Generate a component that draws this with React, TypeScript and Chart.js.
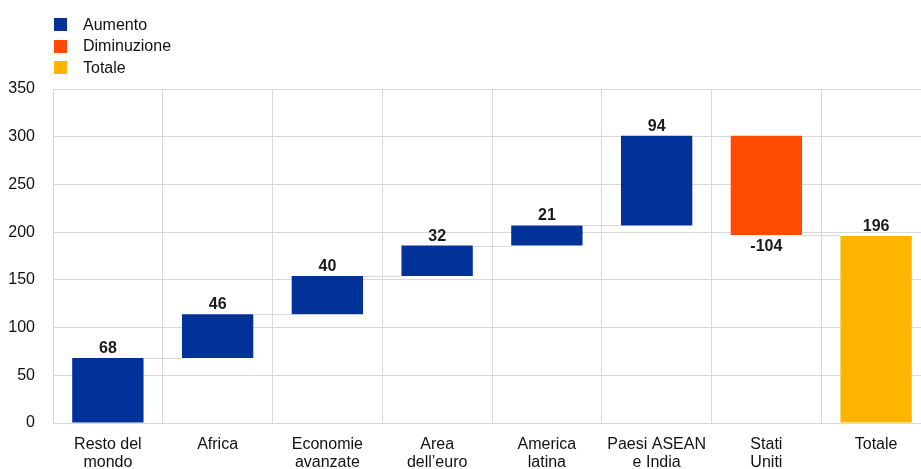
import React, { useEffect, useRef } from "react";
import { Chart, registerables } from "chart.js";

Chart.register(...registerables);

const categories: string[][] = [
  ["Resto del", "mondo"],
  ["Africa"],
  ["Economie", "avanzate"],
  ["Area", "dell’euro"],
  ["America", "latina"],
  ["Paesi ASEAN", "e India"],
  ["Stati", "Uniti"],
  ["Totale"],
];
const changes: number[] = [68, 46, 40, 32, 21, 94, -104];
const totalValue = 196;
const yTicks = { min: 0, max: 350, step: 50 };

const legendItems = [
  { label: "Aumento", color: "#003299" },
  { label: "Diminuzione", color: "#FF4B00" },
  { label: "Totale", color: "#FFB400" },
];

const BLUE = "#003299";
const ORANGE = "#FF4B00";
const YELLOW = "#FFB400";
const GRID = "#d9d9d9";
const FONT = "'Liberation Sans', Arial, sans-serif";

export default function App() {
  const ref = useRef<HTMLCanvasElement | null>(null);

  useEffect(() => {
    if (!ref.current) return;
    // build floating ranges from the changes
    const ranges: [number, number][] = [];
    const labelsText: string[] = [];
    const colors: string[] = [];
    let run = 0;
    changes.forEach((c) => {
      const start = run;
      run += c;
      ranges.push([start, run]);
      labelsText.push(String(c));
      colors.push(c >= 0 ? BLUE : ORANGE);
    });
    ranges.push([0, totalValue]);
    labelsText.push(String(totalValue));
    colors.push(YELLOW);
    const signs = [...changes.map((c) => (c >= 0 ? 1 : -1)), 1];

    const overlay = {
      id: "waterfallOverlay",
      afterDatasetsDraw(chart: any) {
        const ctx = chart.ctx;
        const meta = chart.getDatasetMeta(0);
        const y = chart.scales.y;
        ctx.save();
        // connectors
        ctx.strokeStyle = GRID;
        ctx.lineWidth = 1;
        for (let i = 0; i < meta.data.length - 1; i++) {
          const a = meta.data[i];
          const b = meta.data[i + 1];
          const level = ranges[i][1];
          const py = Math.round(y.getPixelForValue(level)) + 0.5;
          ctx.beginPath();
          ctx.moveTo(a.x + a.width / 2, py);
          ctx.lineTo(b.x - b.width / 2, py);
          ctx.stroke();
        }
        // value labels
        ctx.fillStyle = "#1a1a1a";
        ctx.font = `bold 16px ${FONT}`;
        ctx.textAlign = "center";
        meta.data.forEach((bar: any, i: number) => {
          const hi = Math.max(ranges[i][0], ranges[i][1]);
          const lo = Math.min(ranges[i][0], ranges[i][1]);
          if (signs[i] > 0) {
            ctx.textBaseline = "alphabetic";
            ctx.fillText(labelsText[i], bar.x, y.getPixelForValue(hi) - 5);
          } else {
            ctx.textBaseline = "alphabetic";
            ctx.fillText(labelsText[i], bar.x, y.getPixelForValue(lo) + 16);
          }
        });
        ctx.restore();
      },
    };

    const chart = new Chart(ref.current, {
      type: "bar",
      data: {
        labels: categories,
        datasets: [
          {
            data: ranges as any,
            backgroundColor: colors,
            borderWidth: 0,
            barPercentage: 0.65,
            categoryPercentage: 1,
          },
        ],
      },
      options: {
        responsive: false,
        animation: false,
        events: [],
        layout: { padding: { top: 89, right: 0, left: 0, bottom: 0 } },
        plugins: { legend: { display: false }, tooltip: { enabled: false } },
        scales: {
          x: {
            grid: { color: GRID, drawTicks: false, offset: true },
            border: { color: GRID },
            ticks: {
              color: "#111",
              font: { family: FONT, size: 16, lineHeight: 1.15 },
              padding: 12,
              maxRotation: 0,
              autoSkip: false,
            },
            afterFit: (s: any) => {
              s.height = 46;
            },
          },
          y: {
            min: yTicks.min,
            max: yTicks.max,
            grid: { color: GRID, drawTicks: false },
            border: { color: GRID },
            ticks: {
              stepSize: yTicks.step,
              color: "#111",
              font: { family: FONT, size: 16 },
              padding: 18,
            },
            afterFit: (s: any) => {
              s.width = 53;
            },
          },
        },
      },
      plugins: [overlay],
    });
    return () => chart.destroy();
  }, []);

  return (
    <div
      style={{
        position: "fixed",
        left: 0,
        top: 0,
        width: 921,
        height: 469,
        overflow: "hidden",
        background: "#fff",
      }}
    >
      <canvas
        ref={ref}
        width={931}
        height={469}
        style={{ position: "absolute", left: 0, top: 0 }}
      />
      <div style={{ position: "absolute", left: 54, top: 14, fontFamily: FONT, fontSize: 16, color: "#111" }}>
        {legendItems.map((it) => (
          <div key={it.label} style={{ display: "flex", alignItems: "center", height: 21.5 }}>
            <span style={{ display: "inline-block", width: 13, height: 13, background: it.color, marginRight: 16 }} />
            <span>{it.label}</span>
          </div>
        ))}
      </div>
    </div>
  );
}
